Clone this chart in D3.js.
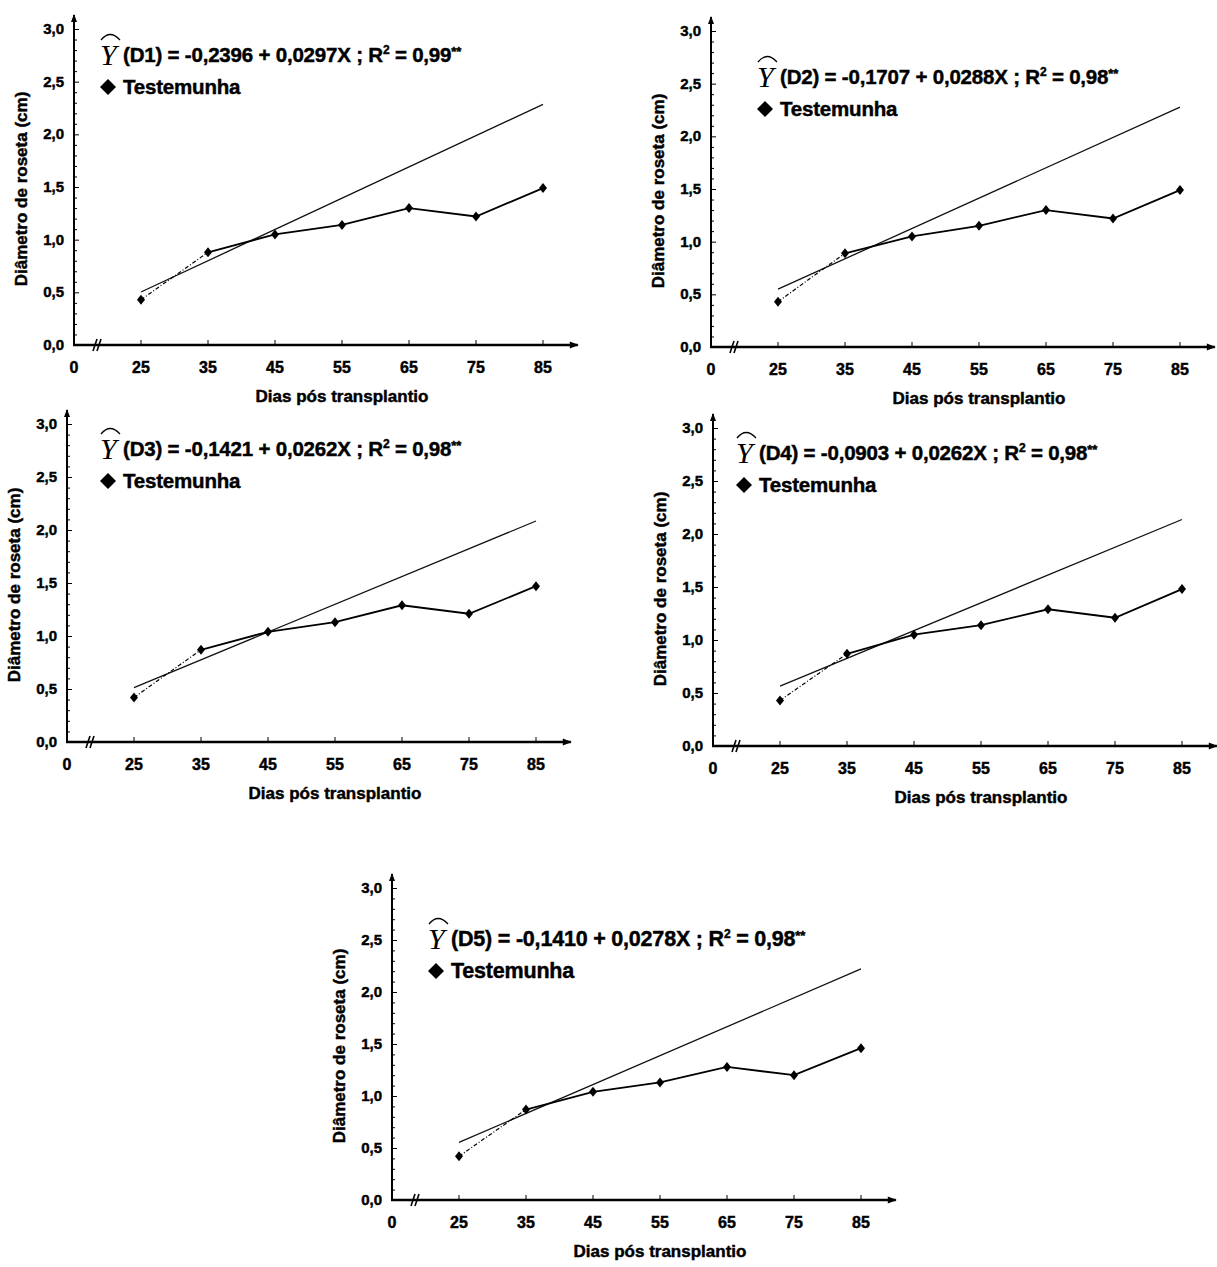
<!DOCTYPE html>
<html>
<head>
<meta charset="utf-8">
<script src="https://cdn.jsdelivr.net/npm/d3@7"></script>
<style>
  html, body { margin: 0; padding: 0; background: #fff; }
  svg text { font-family: "Liberation Sans", Arial, sans-serif; font-weight: bold; fill: #000; }
  svg text.heavy { stroke: #000; stroke-width: 0.45px; paint-order: stroke; }
</style>
</head>
<body>
<svg id="chart" width="1217" height="1267"></svg>
<script>
// Days after transplanting (x categories), with the origin shown before the axis break
const xTickLabels = ["0", "25", "35", "45", "55", "65", "75", "85"];
const days = [25, 35, 45, 55, 65, 75, 85];
const yTicks = [0, 0.5, 1.0, 1.5, 2.0, 2.5, 3.0];

// Control ("Testemunha") rosette diameter, cm
const testemunhaD1 = [0.43, 0.88, 1.05, 1.14, 1.30, 1.22, 1.49];
const testemunhaD2 = [0.43, 0.89, 1.05, 1.15, 1.30, 1.22, 1.49];
const testemunhaD3 = [0.42, 0.87, 1.04, 1.13, 1.29, 1.21, 1.47];
const testemunhaD4 = [0.43, 0.87, 1.05, 1.14, 1.29, 1.21, 1.48];
const testemunhaD5 = [0.42, 0.87, 1.04, 1.13, 1.28, 1.20, 1.46];

// Fitted regressions Y = a + bX for each dose
const doseNames   = ["D1", "D2", "D3", "D4", "D5"];
const intercepts  = [-0.2396, -0.1707, -0.1421, -0.0903, -0.1410];
const slopes      = [0.0297, 0.0288, 0.0262, 0.0262, 0.0278];
const r2Labels    = ["0,99", "0,98", "0,98", "0,98", "0,98"];
const testemunhas = [testemunhaD1, testemunhaD2, testemunhaD3, testemunhaD4, testemunhaD5];

// Panel placement: y-axis x, x-axis y, y of 3,0, tick step, legend anchor
const layout = [
  { ox: 74,  oy: 345,  top: 29,  step: 67, lx: 100, ly: 62,  eqSize: 20.5 },
  { ox: 711, oy: 347,  top: 31,  step: 67, lx: 757, ly: 84,  eqSize: 20.5 },
  { ox: 67,  oy: 742,  top: 424, step: 67, lx: 100, ly: 456, eqSize: 20.5 },
  { ox: 713, oy: 746,  top: 428, step: 67, lx: 736, ly: 460, eqSize: 20.5 },
  { ox: 392, oy: 1200, top: 888, step: 67, lx: 428, ly: 946, eqSize: 21.5 }
];

const svg = d3.select("#chart");
const fmt = v => d3.format(".1f")(v).replace(".", ",");
const num4 = v => d3.format(".4f")(v).replace(".", ",").replace("\u2212", "-");

doseNames.forEach((name, i) => {
  const L = layout[i];
  const g = svg.append("g");

  const x = d3.scalePoint()
    .domain(xTickLabels)
    .range([L.ox, L.ox + L.step * (xTickLabels.length - 1)]);
  const y = d3.scaleLinear().domain([0, 3]).range([L.oy, L.top]);
  const xEnd = x("85") + L.step * 0.52;
  const yEnd = L.top - 14;

  // y axis with minor ticks every 0,1 pointing inward
  const yAxis = d3.axisRight(y).tickValues(d3.range(0, 3.01, 0.1)).tickSize(3).tickFormat("");
  const ya = g.append("g").attr("transform", `translate(${L.ox},0)`).call(yAxis);
  ya.select(".domain").remove();
  ya.selectAll(".tick line").attr("stroke", "#000").attr("stroke-width", 1)
    .attr("x2", d => (Math.round(d * 10) % 5 === 0 ? 5 : 3));

  g.append("line").attr("x1", L.ox).attr("x2", L.ox).attr("y1", L.oy + 1).attr("y2", yEnd)
    .attr("stroke", "#000").attr("stroke-width", 2);
  g.append("path")
    .attr("d", `M${L.ox - 3},${yEnd + 7} L${L.ox},${yEnd - 1} L${L.ox + 3},${yEnd + 7} Z`)
    .attr("fill", "#000");

  g.selectAll(".ylab").data(yTicks).enter().append("text")
    .attr("class", "heavy")
    .attr("x", L.ox - 10).attr("y", d => y(d) + 5)
    .attr("text-anchor", "end").attr("font-size", 15)
    .text(fmt);

  // x axis with break marks
  g.append("line").attr("x1", L.ox - 1).attr("x2", xEnd).attr("y1", L.oy).attr("y2", L.oy)
    .attr("stroke", "#000").attr("stroke-width", 2.4);
  g.append("path")
    .attr("d", `M${xEnd - 8},${L.oy - 3.5} L${xEnd + 1},${L.oy} L${xEnd - 8},${L.oy + 3.5} Z`)
    .attr("fill", "#000");
  const bx = L.ox + 22;
  [0, 4].forEach(o => {
    g.append("line").attr("x1", bx + o - 3).attr("x2", bx + o + 1)
      .attr("y1", L.oy + 6).attr("y2", L.oy - 6)
      .attr("stroke", "#000").attr("stroke-width", 1.6);
  });
  g.selectAll(".xt").data(days).enter().append("line")
    .attr("x1", d => x(String(d))).attr("x2", d => x(String(d)))
    .attr("y1", L.oy).attr("y2", L.oy - 5)
    .attr("stroke", "#000").attr("stroke-width", 1);

  g.selectAll(".xlab").data(xTickLabels).enter().append("text")
    .attr("class", "heavy")
    .attr("x", d => x(d)).attr("y", L.oy + 28)
    .attr("text-anchor", "middle").attr("font-size", 16)
    .text(d => d);

  // axis titles
  g.append("text")
    .attr("class", "heavy")
    .attr("x", (x("25") + x("85")) / 2).attr("y", L.oy + 57)
    .attr("text-anchor", "middle").attr("font-size", 17)
    .text("Dias pós transplantio");
  g.append("text")
    .attr("class", "heavy")
    .attr("transform", `translate(${L.ox - 47},${(L.oy + L.top) / 2 + 2}) rotate(-90)`)
    .attr("text-anchor", "middle").attr("font-size", 17)
    .text("Diâmetro de roseta (cm)");

  // regression line from the fitted equation
  const fit = d => intercepts[i] + slopes[i] * d;
  g.append("line")
    .attr("x1", x("25")).attr("y1", y(fit(25)))
    .attr("x2", x("85")).attr("y2", y(fit(85)))
    .attr("stroke", "#111").attr("stroke-width", 1.3);

  // control series
  const pts = days.map((d, k) => [x(String(d)), y(testemunhas[i][k])]);
  g.append("line")
    .attr("x1", pts[0][0]).attr("y1", pts[0][1]).attr("x2", pts[1][0]).attr("y2", pts[1][1])
    .attr("stroke", "#000").attr("stroke-width", 1.2).attr("stroke-dasharray", "4,2,1,2");
  g.append("path")
    .attr("d", d3.line()(pts.slice(1)))
    .attr("fill", "none").attr("stroke", "#000").attr("stroke-width", 1.8);
  g.selectAll(".pt").data(pts).enter().append("path")
    .attr("transform", p => `translate(${p[0]},${p[1]})`)
    .attr("d", "M0,-5 L4,0 L0,5 L-4,0 Z")
    .attr("fill", "#000");

  // legend: Ŷ equation and control marker
  const yhat = g.append("g").attr("transform", `translate(${L.lx},${L.ly})`);
  yhat.append("text").attr("x", 0).attr("y", 3)
    .style("font-family", "'Liberation Serif', 'Times New Roman', serif")
    .style("font-style", "italic").style("font-weight", "normal")
    .attr("font-size", 30).text("Y");
  yhat.append("path")
    .attr("d", "M1,-22 Q10,-33 20,-22")
    .attr("fill", "none").attr("stroke", "#000").attr("stroke-width", 1.3);

  const eq = g.append("text").attr("class", "heavy")
    .attr("x", L.lx + 23).attr("y", L.ly)
    .attr("font-size", L.eqSize).attr("letter-spacing", "-0.2");
  eq.append("tspan").text(`(${name}) = ${num4(intercepts[i])} + ${num4(slopes[i])}X ; R`);
  eq.append("tspan").attr("dy", -8).attr("font-size", 12).text("2");
  eq.append("tspan").attr("dy", 8).text(` = ${r2Labels[i]}`);
  eq.append("tspan").attr("dy", -6).attr("font-size", 13).text("**");

  g.append("path")
    .attr("transform", `translate(${L.lx + 8},${L.ly + 25})`)
    .attr("d", "M0,-8 L8,0 L0,8 L-8,0 Z").attr("fill", "#000");
  g.append("text").attr("class", "heavy")
    .attr("x", L.lx + 23).attr("y", L.ly + 32)
    .attr("font-size", L.eqSize).attr("letter-spacing", "-0.2")
    .text("Testemunha");
});
</script>
</body>
</html>
